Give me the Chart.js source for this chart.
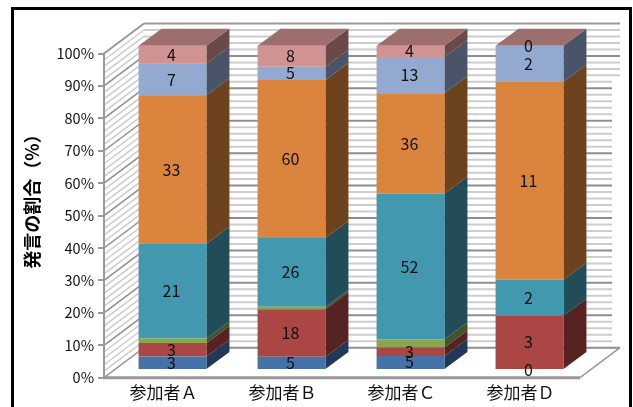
<!DOCTYPE html>
<html lang="ja">
<head>
<meta charset="utf-8">
<title>発言の割合</title>
<script src="https://cdn.jsdelivr.net/npm/chart.js@4/dist/chart.umd.min.js"></script>
<style>
    html, body { margin: 0; padding: 0; background: #fff; }
    canvas { display: block; }
</style>
</head>
<body>
<canvas id="chart" width="633" height="407"></canvas>
<script>
// Categories and counts
const categories = ["参加者Ａ", "参加者Ｂ", "参加者Ｃ", "参加者Ｄ"];
const blueCounts = [3, 5, 5, 0];
const redCounts = [3, 18, 3, 3];
const greenCounts = [1, 1, 3, 0];
const tealCounts = [21, 26, 52, 2];
const orangeCounts = [33, 60, 36, 11];
const lightBlueCounts = [7, 5, 13, 2];
const pinkCounts = [4, 8, 4, 0];

const axisTitle = "発言の割合（%）";
const fontFamily = '"Noto Sans CJK JP", "Liberation Sans", sans-serif';

// Fake 3D: how far the wall goes back, and how far the bars sit from the front edge
const wallDepth = { x: 40, y: 30 };
const barShift = { x: 9, y: 7.8 };
const barDepth = { x: 23, y: 17 };

const allCounts = [blueCounts, redCounts, greenCounts, tealCounts, orangeCounts, lightBlueCounts, pinkCounts];
const totals = categories.map((_, i) => allCounts.reduce((sum, c) => sum + c[i], 0));
const toPercent = counts => counts.map((v, i) => v / totals[i] * 100);

function makeSeries(counts, front, side, top, showLabel) {
    return {
        data: toPercent(counts),
        counts: counts,
        backgroundColor: front,
        sideColor: side,
        topColor: top,
        showLabel: showLabel,
        clip: false
    };
}

const datasets = [
    makeSeries(blueCounts, "#4572a7", "#223858", "#3a5f8c", true),
    makeSeries(redCounts, "#aa4643", "#552321", "#8c3a38", true),
    makeSeries(greenCounts, "#89a54e", "#445229", "#708840", false),
    makeSeries(tealCounts, "#4198af", "#214c58", "#357d90", true),
    makeSeries(orangeCounts, "#db843d", "#6d421e", "#b46c32", true),
    makeSeries(lightBlueCounts, "#93a9cf", "#4a5468", "#7a8cab", true),
    makeSeries(pinkCounts, "#d19392", "#694a49", "#9c6e6e", true)
];

function drawLine(ctx, x1, y1, x2, y2, color, width) {
    ctx.beginPath();
    ctx.moveTo(x1, y1);
    ctx.lineTo(x2, y2);
    ctx.strokeStyle = color;
    ctx.lineWidth = width;
    ctx.stroke();
}

function drawPolygon(ctx, points, color) {
    ctx.beginPath();
    points.forEach((p, i) => i ? ctx.lineTo(p[0], p[1]) : ctx.moveTo(p[0], p[1]));
    ctx.closePath();
    ctx.fillStyle = color;
    ctx.fill();
}

// Frame round the whole chart, the bottom edge falls outside the picture
const framePlugin = {
    id: "frame",
    beforeDraw(chart) {
        const ctx = chart.ctx;
        ctx.save();
        ctx.fillStyle = "#fff";
        ctx.fillRect(0, 0, chart.width, chart.height);
        ctx.strokeStyle = "#000";
        ctx.lineWidth = 3;
        ctx.strokeRect(12.5, 8.5, 618, 420);
        ctx.fillStyle = "#000";
        ctx.font = "bold 18px " + fontFamily;
        ctx.translate(32, 197);
        ctx.rotate(-Math.PI / 2);
        ctx.textAlign = "center";
        ctx.textBaseline = "middle";
        ctx.fillText(axisTitle, 0, 0);
        ctx.restore();
    }
};

const wallPlugin = {
    id: "walls",
    beforeDatasetsDraw(chart) {
        const ctx = chart.ctx;
        const area = chart.chartArea;
        const yScale = chart.scales.y;
        const backLeft = area.left + wallDepth.x;
        const backBottom = area.bottom - wallDepth.y;

        ctx.save();
        yScale.ticks.forEach(tick => {
            const y = yScale.getPixelForValue(tick.value);
            if (tick.value === 0 || tick.value === 100) return;
            const major = tick.value % 10 === 0;
            const color = major ? "#8e8e8e" : "#cdcdcd";
            // the back wall stops short below the top few lines, as in the picture
            const right = y - wallDepth.y < 81 ? 620 : 612;
            drawLine(ctx, backLeft, y - wallDepth.y, right, y - wallDepth.y, color, 2);
            drawLine(ctx, area.left, y, backLeft, y - wallDepth.y, color, 1.5);
        });

        // outline of walls and floor
        const edge = "#999";
        drawLine(ctx, area.left, area.top, backLeft, area.top - wallDepth.y, edge, 2);
        drawLine(ctx, backLeft, area.top - wallDepth.y, 620, area.top - wallDepth.y, edge, 2);
        drawLine(ctx, area.left, area.top, area.left, area.bottom, edge, 2);
        drawLine(ctx, backLeft, backBottom, area.right + wallDepth.x, backBottom, "#8e8e8e", 2);
        drawLine(ctx, area.left, area.bottom, backLeft, backBottom, edge, 1.5);
        drawLine(ctx, area.right, area.bottom, area.right + wallDepth.x, backBottom, edge, 1.5);
        drawLine(ctx, area.left, area.bottom, area.right, area.bottom, edge, 3);
        ctx.restore();

        // side and top faces, the library draws the front faces on top of this
        ctx.save();
        ctx.translate(barShift.x, -barShift.y);
        chart.data.datasets.forEach((ds, d) => {
            chart.getDatasetMeta(d).data.forEach(bar => {
                const right = bar.x + bar.width / 2;
                drawPolygon(ctx, [
                    [right, bar.y],
                    [right + barDepth.x, bar.y - barDepth.y],
                    [right + barDepth.x, bar.base - barDepth.y],
                    [right, bar.base]
                ], ds.sideColor);
            });
        });
        const lastIndex = chart.data.datasets.length - 1;
        const last = chart.data.datasets[lastIndex];
        chart.getDatasetMeta(lastIndex).data.forEach(bar => {
            const left = bar.x - bar.width / 2;
            const right = bar.x + bar.width / 2;
            drawPolygon(ctx, [
                [left, bar.y],
                [right, bar.y],
                [right + barDepth.x, bar.y - barDepth.y],
                [left + barDepth.x, bar.y - barDepth.y]
            ], last.topColor);
        });
    },
    afterDatasetsDraw(chart) {
        const ctx = chart.ctx;
        // count labels on the front faces
        ctx.font = "16px " + fontFamily;
        ctx.fillStyle = "#111";
        ctx.textAlign = "center";
        ctx.textBaseline = "middle";
        chart.data.datasets.forEach((ds, d) => {
            if (!ds.showLabel) return;
            chart.getDatasetMeta(d).data.forEach((bar, i) => {
                ctx.fillText(String(ds.counts[i]), bar.x - 1, (bar.y + bar.base) / 2);
            });
        });
        ctx.restore();
    }
};

new Chart(document.getElementById("chart"), {
    type: "bar",
    data: { labels: categories, datasets: datasets },
    plugins: [framePlugin, wallPlugin],
    options: {
        responsive: false,
        animation: false,
        datasets: { bar: { categoryPercentage: 1, barPercentage: 0.57 } },
        layout: {
            autoPadding: false,
            padding: { left: 0, top: 53.5, right: 53, bottom: 0 }
        },
        plugins: { legend: { display: false }, tooltip: { enabled: false } },
        scales: {
            x: {
                stacked: true,
                grid: { display: false },
                border: { display: false },
                ticks: {
                    padding: -3,
                    color: "#111",
                    font: { family: fontFamily, size: 17 }
                },
                afterFit: scale => { scale.height = 29.3; }
            },
            y: {
                stacked: true,
                min: 0,
                max: 100,
                grid: {
                    drawOnChartArea: false,
                    tickLength: 6,
                    lineWidth: 2,
                    tickColor: c => c.tick.value % 10 === 0 ? "#999" : "transparent"
                },
                border: { display: false },
                ticks: {
                    stepSize: 2,
                    autoSkip: false,
                    padding: 4,
                    color: "#111",
                    font: { family: fontFamily, size: 14.5 },
                    callback: v => v % 10 === 0 ? v + "%" : ""
                },
                afterFit: scale => { scale.width = 104; }
            }
        }
    }
});
</script>
</body>
</html>
